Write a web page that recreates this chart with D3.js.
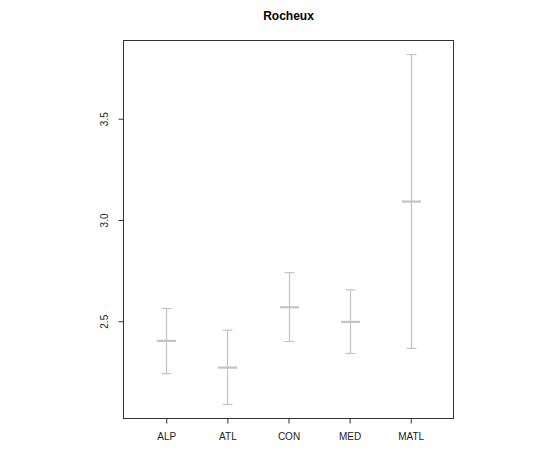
<!DOCTYPE html>
<html>
<head>
<meta charset="utf-8">
<script src="https://cdn.jsdelivr.net/npm/d3@7"></script>
<style>
body { margin: 0; background: #fff; }
svg { display: block; font-family: "Liberation Sans", Arial, sans-serif; }
</style>
</head>
<body>
<svg id="chart" width="533" height="454"></svg>
<script>
const title = "Rocheux";
const categories = ["ALP", "ATL", "CON", "MED", "MATL"];
const means = [2.403, 2.271, 2.569, 2.497, 3.091];
const lower = [2.241, 2.089, 2.400, 2.341, 2.366];
const upper = [2.563, 2.456, 2.740, 2.655, 3.817];
const yTicks = [2.5, 3.0, 3.5];

(function () {
const svg = d3.select("#chart");
const mLeft = 123.5, mRight = 453.5, mTop = 40.5, mBottom = 418.5;

const x = d3.scaleLinear().domain([0.3, 5.7]).range([mLeft, mRight]);
const y = d3.scaleLinear().domain([2.0198, 3.8862]).range([mBottom, mTop]);

const col = "#c4c4c4";
const g = svg.append("g");
categories.forEach((c, i) => {
  const cx = Math.round(x(i + 1)) + 0.5;
  g.append("line").attr("x1", cx).attr("x2", cx)
    .attr("y1", y(lower[i])).attr("y2", y(upper[i]))
    .attr("stroke", col).attr("stroke-width", 1.2);
  [lower[i], upper[i]].forEach(v => {
    g.append("line").attr("x1", cx - 5).attr("x2", cx + 5)
      .attr("y1", y(v)).attr("y2", y(v))
      .attr("stroke", col).attr("stroke-width", 1.2);
  });
  g.append("line").attr("x1", cx - 9.5).attr("x2", cx + 9.5)
    .attr("y1", y(means[i])).attr("y2", y(means[i]))
    .attr("stroke", col).attr("stroke-width", 2.2);
});

// box
svg.append("rect").attr("x", mLeft).attr("y", mTop)
  .attr("width", mRight - mLeft).attr("height", mBottom - mTop)
  .attr("fill", "none").attr("stroke", "#333").attr("stroke-width", 1);

// x axis
const xAxis = d3.axisBottom(x)
  .tickValues(d3.range(1, categories.length + 1))
  .tickFormat(d => categories[d - 1])
  .tickSize(5).tickPadding(9);
const xg = svg.append("g").attr("transform", `translate(0,${mBottom})`).call(xAxis);
xg.select(".domain").remove();
xg.selectAll(".tick line").attr("stroke", "#333");
xg.selectAll(".tick text").attr("font-size", 10).attr("fill", "#222")
  .attr("font-family", "Liberation Sans, Arial, sans-serif");

// y axis
const yAxis = d3.axisLeft(y).tickValues(yTicks).tickFormat(d3.format(".1f")).tickSize(5).tickPadding(0);
const yg = svg.append("g").attr("transform", `translate(${mLeft},0)`).call(yAxis);
yg.select(".domain").remove();
yg.selectAll(".tick line").attr("stroke", "#333");
yg.selectAll(".tick text")
  .attr("font-size", 10).attr("fill", "#222")
  .attr("font-family", "Liberation Sans, Arial, sans-serif")
  .attr("x", null).attr("dy", null)
  .attr("text-anchor", "middle")
  .attr("transform", "translate(-19,0) rotate(-90)")
  .attr("y", 0).attr("dominant-baseline", "central");

// title
svg.append("text").attr("x", (mLeft + mRight) / 2).attr("y", 20)
  .attr("text-anchor", "middle").attr("font-size", 12).attr("font-weight", "bold")
  .attr("fill", "#000").text(title);
})();
</script>
</body>
</html>
